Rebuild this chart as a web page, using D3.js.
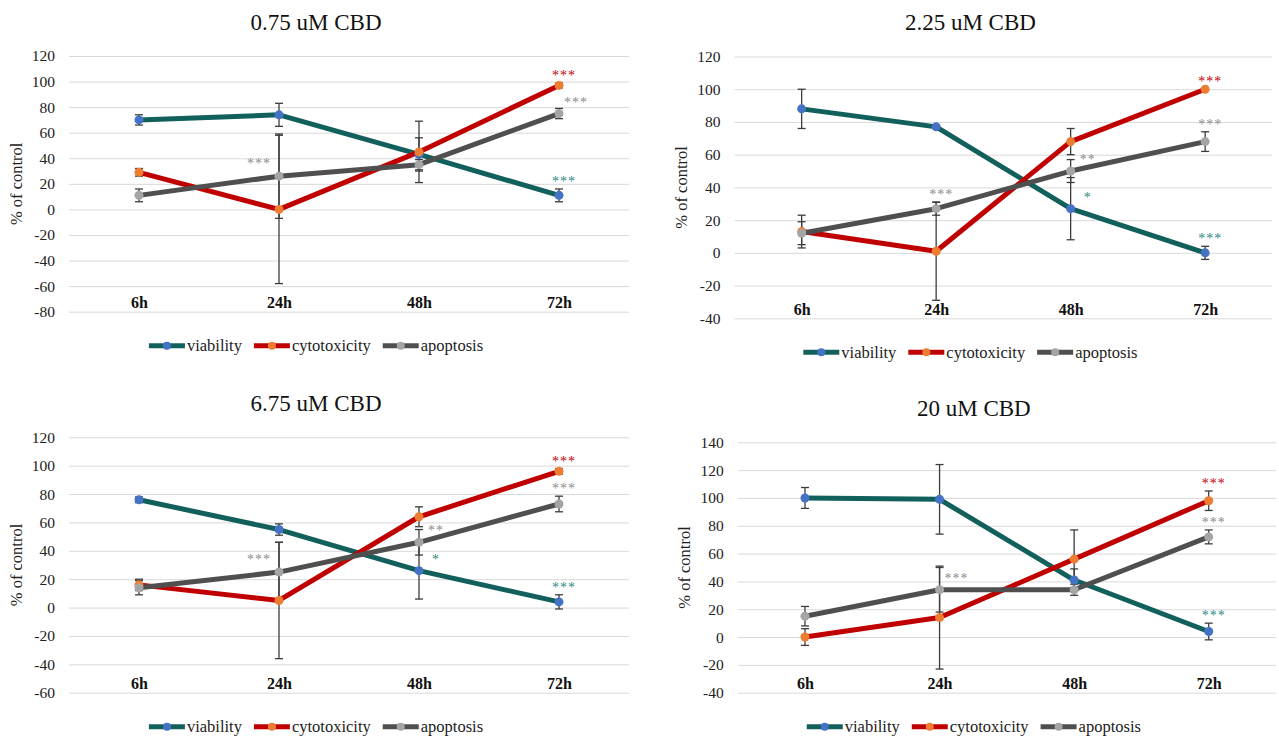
<!DOCTYPE html>
<html>
<head>
<meta charset="utf-8">
<script src="https://cdn.jsdelivr.net/npm/d3@7"></script>
<style>
  html, body { margin: 0; padding: 0; background: #fff; }
  svg text { font-family: "Liberation Serif", "Times New Roman", serif !important; }
</style>
</head>
<body>
<svg id="chart" width="1279" height="740"></svg>
<script>
// time points and panel titles
const times = ['6h', '24h', '48h', '72h'];
const titles = ['0.75 uM CBD', '2.25 uM CBD', '6.75 uM CBD', '20 uM CBD'];
const yDomains = [[-80, 120], [-40, 120], [-60, 120], [-40, 140]];

// one row per panel, one value per time point (% of control)
const viability = [
    [70, 74, 43, 11],
    [88, 77, 27, 0],
    [76, 55, 26, 4],
    [100, 99, 41, 4]
];
const viabilityErr = [
    [4, 9, 13, 5],
    [12, 1, 19, 4],
    [2, 4, 20, 5],
    [7.5, 25, 8, 6]
];
const cytotoxicity = [
    [29, 0, 45, 97],
    [13, 1, 68, 100],
    [16, 5, 64, 96],
    [0, 14, 56, 98]
];
const cytotoxicityErr = [
    [3, 58, 24, 2],
    [10, 30, 8, 0],
    [4, 41, 7, 2],
    [6, 37, 21, 7]
];
const apoptosis = [
    [11, 26, 35, 75],
    [12, 27, 50, 68],
    [14, 25, 46, 73],
    [15, 34, 34, 72]
];
const apoptosisErr = [
    [5, 33, 4, 4],
    [7, 4, 7, 6],
    [5, 21, 9, 5.5],
    [7, 16, 4, 5]
];

// significance marks: panel, series, time index, label, where it sits
const significance = [
    [0, 'cytotoxicity', 3, '***', 'above'],
    [0, 'apoptosis', 3, '***', 'right'],
    [0, 'viability', 3, '***', 'above'],
    [0, 'apoptosis', 1, '***', 'left'],
    [1, 'cytotoxicity', 3, '***', 'above'],
    [1, 'apoptosis', 3, '***', 'above'],
    [1, 'apoptosis', 2, '**', 'right'],
    [1, 'viability', 2, '*', 'right'],
    [1, 'viability', 3, '***', 'above'],
    [1, 'apoptosis', 1, '***', 'above'],
    [2, 'cytotoxicity', 3, '***', 'above'],
    [2, 'apoptosis', 3, '***', 'above'],
    [2, 'apoptosis', 2, '**', 'right'],
    [2, 'viability', 2, '*', 'right'],
    [2, 'viability', 3, '***', 'above'],
    [2, 'apoptosis', 1, '***', 'left'],
    [3, 'cytotoxicity', 3, '***', 'above'],
    [3, 'apoptosis', 3, '***', 'above'],
    [3, 'viability', 3, '***', 'above'],
    [3, 'apoptosis', 1, '***', 'right']
];

const seriesNames = ['viability', 'cytotoxicity', 'apoptosis'];
const seriesValues = { viability, cytotoxicity, apoptosis };
const seriesErrors = { viability: viabilityErr, cytotoxicity: cytotoxicityErr, apoptosis: apoptosisErr };

const styles = {
    viability:    { line: '#12605c', marker: '#4472c4', star: '#2b8a85' },
    cytotoxicity: { line: '#c00000', marker: '#ed7d31', star: '#c00000' },
    apoptosis:    { line: '#4f4f4f', marker: '#a5a5a5', star: '#8c8c8c' }
};

// plot frames (pixels)
const frames = [
    { left: 69,    right: 629,    top: 56,    bottom: 311.7 },
    { left: 734.4, right: 1272.4, top: 56.5,  bottom: 318.3 },
    { left: 69,    right: 629,    top: 437.3, bottom: 692.7 },
    { left: 737.7, right: 1276,   top: 442.3, bottom: 692.7 }
];

const svg = d3.select('#chart');
svg.append('rect').attr('width', 1279).attr('height', 740).attr('fill', '#fff');

frames.forEach((f, p) => drawPanel(f, p));

function drawPanel(f, p) {
    const g = svg.append('g');
    const x = d3.scalePoint().domain(times).range([f.left, f.right]).padding(0.5);
    const y = d3.scaleLinear().domain(yDomains[p]).range([f.bottom, f.top]);
    const mid = (f.left + f.right) / 2 - 33;

    // title
    g.append('text')
        .attr('x', mid).attr('y', f.top - 34)
        .attr('text-anchor', 'middle').attr('dominant-baseline', 'central')
        .attr('font-size', 23).attr('fill', '#111')
        .text(titles[p]);

    // y axis with gridlines
    const yAxis = d3.axisLeft(y)
        .tickValues(d3.range(yDomains[p][0], yDomains[p][1] + 1, 20))
        .tickFormat(d => String(d))
        .tickSize(-(f.right - f.left))
        .tickPadding(14);
    const ya = g.append('g').attr('transform', `translate(${f.left},0)`).call(yAxis);
    ya.select('.domain').remove();
    ya.selectAll('line').attr('stroke', '#d9d9d9').attr('stroke-width', 1);
    ya.selectAll('text').attr('font-size', 15.5).attr('fill', '#222');

    // y title
    g.append('text')
        .attr('transform', `translate(${f.left - 53},${(f.top + f.bottom) / 2}) rotate(-90)`)
        .attr('text-anchor', 'middle').attr('dominant-baseline', 'central')
        .attr('font-size', 16.5).attr('fill', '#222')
        .text('% of control');

    // category labels near the bottom gridline
    const xAxis = d3.axisBottom(x).tickSize(0).tickPadding(0);
    const xa = g.append('g').attr('transform', `translate(0,${f.bottom - 15})`).call(xAxis);
    xa.select('.domain').remove();
    xa.selectAll('text').attr('font-size', 16).attr('font-weight', 'bold').attr('fill', '#111');

    const line = d3.line().x((d, i) => x(times[i])).y(d => y(d));

    seriesNames.forEach(name => {
        g.append('path')
            .datum(seriesValues[name][p])
            .attr('d', line)
            .attr('fill', 'none')
            .attr('stroke', styles[name].line)
            .attr('stroke-width', 5)
            .attr('stroke-linejoin', 'round');
    });

    // error bars
    seriesNames.forEach(name => {
        const vals = seriesValues[name][p];
        const errs = seriesErrors[name][p];
        const eb = g.append('g').attr('stroke', '#3c3c3c').attr('stroke-width', 1.3);
        vals.forEach((v, i) => {
            const e = errs[i];
            if (!e) return;
            const cx = x(times[i]);
            eb.append('line').attr('x1', cx).attr('x2', cx).attr('y1', y(v - e)).attr('y2', y(v + e));
            eb.append('line').attr('x1', cx - 4).attr('x2', cx + 4).attr('y1', y(v - e)).attr('y2', y(v - e));
            eb.append('line').attr('x1', cx - 4).attr('x2', cx + 4).attr('y1', y(v + e)).attr('y2', y(v + e));
        });
    });

    // markers
    seriesNames.forEach(name => {
        g.append('g').selectAll('circle')
            .data(seriesValues[name][p])
            .join('circle')
            .attr('cx', (d, i) => x(times[i]))
            .attr('cy', d => y(d))
            .attr('r', 4.5)
            .attr('fill', styles[name].marker);
    });

    // significance stars
    significance.filter(s => s[0] === p).forEach(([, name, i, label, where]) => {
        const v = seriesValues[name][p][i];
        const e = seriesErrors[name][p][i];
        let sx = x(times[i]);
        let sy;
        if (where === 'above') { sx += 5; sy = y(v + e) - 10; }
        else if (where === 'right') { sx += 17; sy = y(v) - 14; }
        else { sx -= 20; sy = y(v) - 15; }
        g.append('text')
            .attr('x', sx).attr('y', sy + 7)
            .attr('text-anchor', 'middle')
            .attr('font-size', 14).attr('letter-spacing', 1)
            .attr('fill', styles[name].star)
            .text(label);
    });

    // legend
    const legend = g.append('g').attr('transform', `translate(0,${f.bottom + 34})`);
    let lx = 0;
    const items = [];
    seriesNames.forEach(name => {
        const item = legend.append('g');
        item.append('line').attr('x1', 0).attr('x2', 36).attr('y1', 0).attr('y2', 0)
            .attr('stroke', styles[name].line).attr('stroke-width', 5);
        item.append('circle').attr('cx', 18).attr('cy', 0).attr('r', 4).attr('fill', styles[name].marker);
        const t = item.append('text').attr('x', 38).attr('y', 0)
            .attr('dominant-baseline', 'central')
            .attr('font-size', 16.5).attr('fill', '#222').text(name);
        const w = 38 + t.node().getComputedTextLength();
        items.push({ item, offset: lx });
        lx += w + 12;
    });
    const total = lx - 12;
    items.forEach(({ item, offset }) => {
        item.attr('transform', `translate(${mid - total / 2 + offset},0)`);
    });
}
</script>
</body>
</html>
